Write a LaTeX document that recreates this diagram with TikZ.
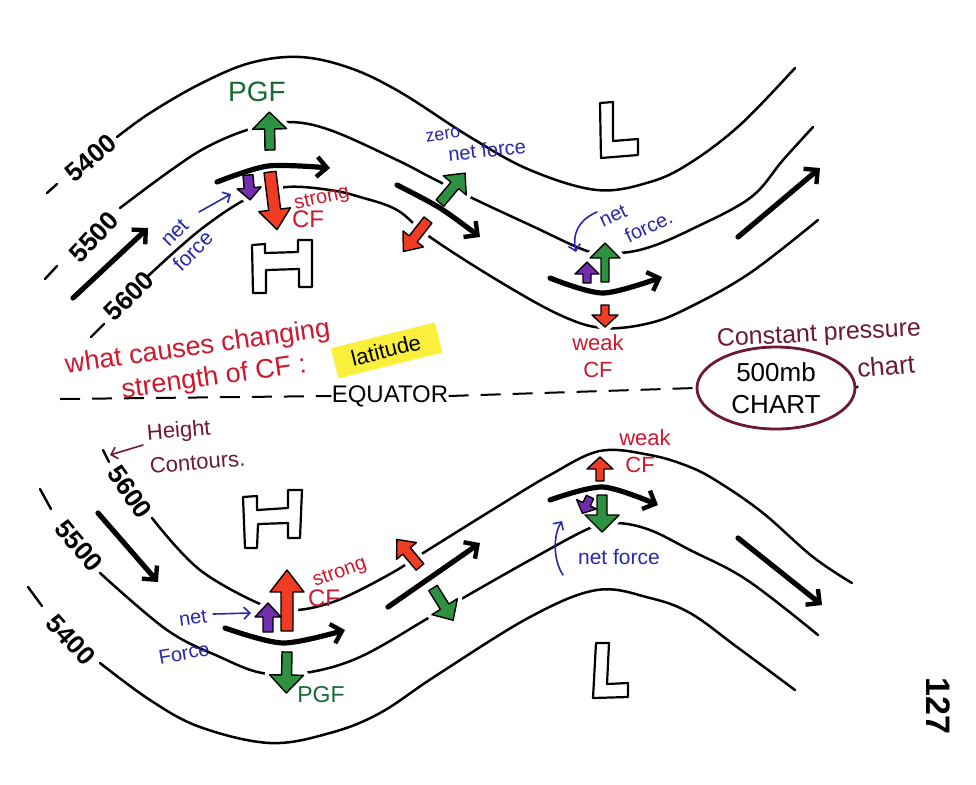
\documentclass[tikz,border=0pt]{standalone}
\usepackage{fontspec}
\setmainfont{Liberation Sans}
\usetikzlibrary{shapes.geometric,arrows.meta}
\definecolor{pgreen}{RGB}{45,145,65}
\definecolor{pred}{RGB}{240,60,35}
\definecolor{ppurple}{RGB}{115,45,175}
\definecolor{tblue}{RGB}{40,40,170}
\definecolor{tred}{RGB}{205,25,45}
\definecolor{tgreen}{RGB}{25,105,50}
\definecolor{maroon}{RGB}{110,25,50}
\definecolor{hyellow}{RGB}{250,240,60}
% block arrow: color, base x, base y, angle, length, shaft half width, head half width, head length, pass (0 halo / 1 fill)
\newcommand{\blkarrow}[9]{%
  \begin{scope}[shift={(#2,#3)},rotate=#4]
    \ifnum#9=0
      \draw[white, line width=5pt, line join=round]
        (0,-#6) -- (#5-#8,-#6) -- (#5-#8,-#7) -- (#5,0) -- (#5-#8,#7) -- (#5-#8,#6) -- (0,#6) -- cycle;
    \else
      \filldraw[draw=black, line width=0.7pt, line join=round, fill=#1]
        (0,-#6) -- (#5-#8,-#6) -- (#5-#8,-#7) -- (#5,0) -- (#5-#8,#7) -- (#5-#8,#6) -- (0,#6) -- cycle;
    \fi
  \end{scope}}
\newcommand{\forcearrows}[1]{%
  % top
  \blkarrow{pgreen}{270}{150}{91}{38}{5}{17}{17}{#1}
  \blkarrow{pred}{270}{172}{-83}{58}{6}{16}{20}{#1}
  \blkarrow{ppurple}{248}{175}{-85}{25}{5}{12}{12}{#1}
  \blkarrow{pgreen}{440}{203}{50}{39}{5}{15}{16}{#1}
  \blkarrow{pred}{428}{220}{-128}{40}{5}{13}{16}{#1}
  \blkarrow{pgreen}{605}{282}{90}{39}{4}{15}{15}{#1}
  \blkarrow{ppurple}{587}{283}{90}{21}{4}{12}{12}{#1}
  \blkarrow{pred}{605}{305}{-90}{22}{4}{13}{12}{#1}
  % bottom
  \blkarrow{pred}{287}{631}{90}{61}{6}{17}{22}{#1}
  \blkarrow{ppurple}{268}{632}{90}{29}{5}{13}{14}{#1}
  \blkarrow{pgreen}{287}{652}{-91}{41}{5}{17}{18}{#1}
  \blkarrow{pred}{420}{567}{130}{36}{5}{13}{15}{#1}
  \blkarrow{pgreen}{433}{588}{-58}{38}{5}{15}{16}{#1}
  \blkarrow{pred}{600}{481}{90}{24}{4}{13}{12}{#1}
  \blkarrow{ppurple}{590}{497}{-115}{18}{4}{11}{10}{#1}
  \blkarrow{pgreen}{602}{495}{-90}{37}{5}{17}{17}{#1}}
\begin{document}
\begin{tikzpicture}[x=0.5pt,y=-0.5pt,
  contour/.style={line width=1.25pt, line cap=round, line join=round},
  wind/.style={line width=2.6pt, line cap=round, -{Straight Barb[length=5pt,width=10pt,line width=2.2pt]}},
  thinarr/.style={line width=0.8pt, line cap=round, -{Straight Barb[length=3pt,width=6pt]}},
  num/.style={inner sep=0pt, font=\bfseries\fontsize{13}{15}\selectfont},
  txt/.style={inner sep=0pt, font=\fontsize{12}{14}\selectfont},
  outline/.style={draw=black, line width=1.1pt, line join=round, fill=white},
  tick/.style={line width=1.2pt, line cap=round},
  equator/.style={line width=1pt, dash pattern=on 10pt off 6pt}]
\fill[white] (0,0) rectangle (976,784);
\useasboundingbox (0,0) rectangle (976,784);

% ---------------- top half contours ----------------
\draw[contour] plot[smooth, tension=0.6] coordinates {(117,137) (150,113) (200,84) (250,63) (300,57) (350,68) (400,92) (470,137) (530,170) (597,190) (650,182) (690,163) (740,125) (795,68)};
\draw[contour] plot[smooth, tension=0.6] coordinates {(120,208) (167,173) (205,148) (247,130) (287,122) (330,130) (397,160) (430,177) (470,197) (530,225) (590,252) (620,253) (650,247) (690,230) (750,198) (783,160) (813,127)};
\draw[contour] plot[smooth, tension=0.6] coordinates {(147,277) (200,230) (250,197) (287,187) (330,190) (360,197) (397,210) (430,237) (497,280) (560,315) (603,328) (650,323) (690,307) (750,273) (818,220)};

% ---------------- bottom half contours ----------------
\draw[contour] plot[smooth, tension=0.6] coordinates {(152,518) (200,570) (267,607) (297,610) (330,603) (360,590) (397,570) (420,555) (497,507) (550,475) (600,451) (650,455) (690,467) (720,483) (763,513) (813,557) (852,583)};
\draw[contour] plot[smooth, tension=0.6] coordinates {(100,573) (167,630) (220,657) (262,673) (305,673) (360,657) (430,617) (463,598) (530,560) (590,528) (617,523) (650,530) (690,550) (747,580) (818,635)};
\draw[contour] plot[smooth, tension=0.6] coordinates {(100,663) (150,700) (200,727) (270,743) (330,733) (380,713) (437,675) (530,617) (597,590) (650,598) (690,613) (737,647) (795,690)};

% ---------------- contour labels and ticks ----------------
\draw[tick] (47,193) -- (57,184);
\node[num, rotate=40] (l5400t) at (91,158) {5400};
\draw[tick] (45,279) -- (57,266);
\node[num, rotate=47] (l5500t) at (94,237) {5500};
\draw[tick] (91,337) -- (104,324);
\node[num, rotate=45] (l5600t) at (129,296) {5600};

\draw[tick] (103,450) -- (109,462);
\node[num, rotate=-55] (l5600b) at (130,492) {5600};
\draw[tick] (40,489) -- (51,509);
\node[num, rotate=-50] (l5500b) at (79,546) {5500};
\draw[tick] (28,587) -- (42,606);
\node[num, rotate=-48] (l5400b) at (71,640) {5400};

% ---------------- H and L ----------------
\draw[outline] (252,245) -- (265,244) -- (265,253) -- (298,252) -- (298,240) -- (312,240) -- (312,287) -- (299,287) -- (299,269) -- (266,270) -- (266,293) -- (253,293) -- cycle;
\draw[outline] (600,103) -- (613,102) -- (613,141) -- (638,139) -- (638,155) -- (601,158) -- cycle;
\draw[outline] (243,497) -- (257,496) -- (257,510) -- (288,508) -- (288,490) -- (302,490) -- (300,538) -- (288,538) -- (288,523) -- (258,524) -- (257,548) -- (245,548) -- cycle;
\draw[outline] (596,643) -- (609,643) -- (607,684) -- (628,683) -- (628,697) -- (593,698) -- cycle;

% ---------------- force arrows (halos first, then fills) ----------------
\forcearrows{0}
\forcearrows{1}

% ---------------- wind arrows ----------------
\draw[wind] (73,298) -- (148,228);
\draw[wind] plot[smooth] coordinates {(217,182) (268,166) (330,168)};
\draw[wind] plot[smooth] coordinates {(397,185) (440,208) (480,237)};
\draw[wind] plot[smooth] coordinates {(550,278) (603,293) (662,277)};
\draw[wind] (738,237) -- (820,168);
\draw[wind] (98,513) -- (158,582);
\draw[wind] plot[smooth] coordinates {(225,628) (283,643) (345,630)};
\draw[wind] (388,607) -- (480,543);
\draw[wind] plot[smooth] coordinates {(550,500) (603,487) (658,505)};
\draw[wind] (738,538) -- (822,605);

% ---------------- top labels ----------------
\node[txt, tgreen, font=\fontsize{14}{17}\selectfont] (pgfT) at (257,92) {PGF};
\node[txt, tblue, rotate=45, align=center, font=\fontsize{10.5}{13}\selectfont] (netT) at (184,242) {net\\force};
\coordinate (netTstart) at (199,212);
\coordinate (netTend) at (231,194);
\draw[thinarr, tblue] (netTstart) -- (netTend);
\node[txt, tred, font=\fontsize{10}{12}\selectfont, rotate=12] (strongT) at (322,199) {strong};
\node[txt, tred, font=\fontsize{12}{14}\selectfont] (cfT) at (308,219) {CF};
\node[txt, tblue, font=\fontsize{9}{11}\selectfont, rotate=10] (zero) at (443,135) {zero};
\node[txt, tblue, font=\fontsize{10}{12}\selectfont, rotate=6] (zeronet) at (487,150) {net force};
\node[txt, tblue, font=\fontsize{10}{12.5}\selectfont, rotate=25, align=left] (netTr) at (636,219) {net\\\ \ \ force.};
\coordinate (netTrstart) at (597,212);
\coordinate (netTrend) at (576,252);
\draw[thinarr, tblue] (netTrstart) .. controls (578,220) and (572,235) .. (netTrend);
\node[txt, tred, font=\fontsize{11}{13.5}\selectfont, align=center] (weakT) at (598,356) {weak\\CF};

% ---------------- middle ----------------
\node[txt, tred, font=\fontsize{13.5}{16}\selectfont, rotate=8, align=center] (what) at (200,364) {what causes changing\\\hspace*{12pt}strength of CF :};
\fill[hyellow, rotate around={14:(386,350)}] (333,335) rectangle (440,366);
\node[txt, black, font=\fontsize{11}{13}\selectfont, rotate=14] (lat) at (386,350) {latitude};

\node[txt, font=\fontsize{12}{14}\selectfont] (eq) at (390,396) {EQUATOR};
\node[ellipse, draw=maroon, line width=1.4pt, minimum width=79pt, minimum height=41pt, align=center, inner sep=0pt, font=\fontsize{13}{16}\selectfont] (chart) at (776,388) {500mb\\CHART};
\coordinate (eqW) at (60,399);
\coordinate (eqE) at (858,386);
\draw[equator] (eqW) -- (eq.west);
\draw[equator] (eq.east) -- (chart.west);
\draw[line width=1pt] (chart.east) -- (eqE);
\node[txt, maroon, font=\fontsize{12.5}{15}\selectfont, rotate=3] (cp) at (819,335) {Constant pressure};
\node[txt, maroon, font=\fontsize{13}{16}\selectfont, rotate=5] (cpc) at (886,366) {chart};

\node[txt, maroon, font=\fontsize{11}{17}\selectfont, rotate=5, align=left] (ht) at (196,445) {Height\\Contours.};
\coordinate (htstart) at (143,445);
\coordinate (htend) at (110,455);
\draw[thinarr, maroon] (htstart) -- (htend);

% ---------------- bottom labels ----------------
\node[txt, tblue, font=\fontsize{10}{12}\selectfont, rotate=8] (netB) at (193,618) {net};
\node[txt, tblue, font=\fontsize{10}{12}\selectfont, rotate=10] (forceB) at (184,653) {Force};
\coordinate (netBend) at (251,613);
\draw[thinarr, tblue] ([shift={(6,-2)}]netB.east) -- (netBend);
\node[txt, tred, font=\fontsize{10}{12}\selectfont, rotate=20] (strongB) at (340,573) {strong};
\node[txt, tred, font=\fontsize{12}{14}\selectfont] (cfB) at (324,598) {CF};
\node[txt, tgreen, font=\fontsize{11.5}{14}\selectfont] (pgfB) at (321,695) {PGF};
\node[txt, tred, font=\fontsize{11}{13.5}\selectfont, align=left] (weakB) at (645,451) {weak\\\ CF};
\node[txt, tblue, font=\fontsize{10.5}{13}\selectfont] (netfB) at (619,557) {net force};
\coordinate (netfBstart) at (563,575);
\coordinate (netfBend) at (562,521);
\draw[thinarr, tblue] (netfBstart) .. controls (553,560) and (553,535) .. (netfBend);

\node[inner sep=0pt, rotate=-90, font=\bfseries\fontsize{17}{20}\selectfont] (page) at (938,706) {127};
\end{tikzpicture}
\end{document}
